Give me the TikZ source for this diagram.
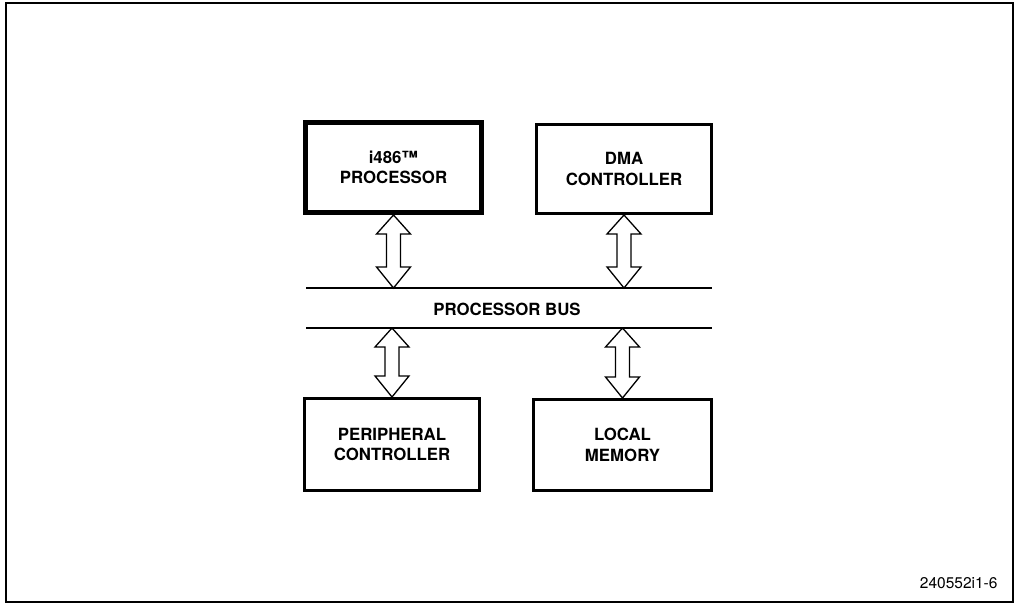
\documentclass[tikz,border=0pt]{standalone}
\usepackage{fontspec}
\setmainfont{TeX Gyre Heros}
\usepackage{tikz}
\usetikzlibrary{calc}
\tikzstyle{blk}=[draw=black,line width=3pt,fill=white,align=center,
  inner sep=0pt,font=\bfseries\fontsize{16.8}{20.5}\selectfont]
\tikzstyle{cpublk}=[blk,line width=5pt]
\tikzstyle{busline}=[line width=2pt]
\tikzstyle{arrowbody}=[draw=black,fill=white,line width=1.3pt,line join=miter]
% wide hollow double arrow between a top point and a bottom point
\newcommand{\busarrow}[2]{%
  \draw[arrowbody] let \p1=(#1), \p2=(#2) in
    (\x1,\y1) -- (\x1+17pt,\y1-19pt) -- (\x1+7pt,\y1-19pt)
    -- (\x1+7pt,\y2+21pt) -- (\x1+17pt,\y2+21pt) -- (\x1,\y2)
    -- (\x1-17pt,\y2+21pt) -- (\x1-7pt,\y2+21pt) -- (\x1-7pt,\y1-19pt)
    -- (\x1-17pt,\y1-19pt) -- cycle;}

\begin{document}
\begin{tikzpicture}[x=1pt,y=-1pt]
        \useasboundingbox (0,0) rectangle (1018,605);
        \draw[line width=2pt] (6,3) rectangle (1013,602);
        % boxes
        \node[style=cpublk,minimum width=176pt,minimum height=90pt] (cpu) at (393.5,167.5) {i486™\\PROCESSOR};
        \node[style=blk,minimum width=175pt,minimum height=89pt] (dma) at (624,169) {DMA\\CONTROLLER};
        \node[style=blk,minimum width=175pt,minimum height=92pt] (per) at (392,444.5) {PERIPHERAL\\CONTROLLER};
        \node[style=blk,minimum width=178pt,minimum height=91pt] (mem) at (622.5,445) {LOCAL\\MEMORY};
        % bus
        \coordinate (bt0) at (306,288);
        \coordinate (bt1) at (712,288);
        \coordinate (bb0) at (306,328);
        \coordinate (bb1) at (712,328);
        \draw[style=busline] (bt0) to (bt1);
        \draw[style=busline] (bb0) to (bb1);
        \node[font=\bfseries\fontsize{16.8}{20}\selectfont] (bus) at (507,309) {PROCESSOR BUS};
        % arrows
        \busarrow{cpu.south}{cpu.south |- bt0}
        \busarrow{dma.south}{dma.south |- bt0}
        \busarrow{per.north |- bb0}{per.north}
        \busarrow{mem.north |- bb0}{mem.north}
        \node[anchor=base east,font=\fontsize{15.5}{18}\selectfont] (fig) at (1001,588) {240552i1-6};
    \end{tikzpicture}
\end{document}
